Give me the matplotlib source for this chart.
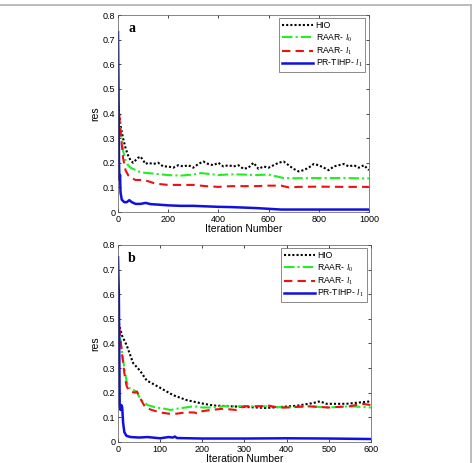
import matplotlib
matplotlib.use('Agg')
import matplotlib.pyplot as plt
from matplotlib.lines import Line2D

plt.rcParams['font.family'] = ['Liberation Sans', 'DejaVu Sans']
plt.rcParams['mathtext.fontset'] = 'custom'
plt.rcParams['mathtext.it'] = 'Liberation Serif:italic'
plt.rcParams['mathtext.rm'] = 'Liberation Serif'

# ---- panel a (1000 iterations) ----
a_hio_x = [0, 5, 10, 20, 30, 40, 50, 60, 70, 80, 90, 100, 110, 120, 140, 160, 180, 200, 220, 240,
           260, 280, 300, 320, 340, 360, 380, 400, 420, 440, 460, 480, 500, 520, 540, 560, 580, 600,
           620, 640, 660, 680, 700, 720, 740, 760, 780, 800, 820, 840, 860, 880, 900, 920, 940, 960,
           980, 1000]
a_hio_y = [0.45, 0.40, 0.35, 0.30, 0.26, 0.23, 0.21, 0.20, 0.21, 0.22, 0.225, 0.21, 0.195, 0.20,
           0.195, 0.20, 0.185, 0.185, 0.18, 0.19, 0.185, 0.19, 0.18, 0.195, 0.205, 0.195, 0.19,
           0.20, 0.185, 0.19, 0.185, 0.19, 0.175, 0.18, 0.20, 0.175, 0.185, 0.18, 0.19, 0.20, 0.205,
           0.19, 0.175, 0.165, 0.17, 0.18, 0.195, 0.19, 0.18, 0.17, 0.185, 0.19, 0.195, 0.185, 0.19,
           0.18, 0.19, 0.17]
a_l0_x = [0, 10, 20, 30, 40, 50, 80, 100, 150, 200, 250, 300, 330, 360, 400, 450, 500, 550, 600,
          630, 660, 700, 800, 900, 1000]
a_l0_y = [0.42, 0.33, 0.25, 0.21, 0.19, 0.18, 0.165, 0.16, 0.155, 0.15, 0.148, 0.152, 0.158, 0.155,
          0.15, 0.153, 0.152, 0.15, 0.152, 0.145, 0.138, 0.137, 0.138, 0.138, 0.136]
a_l1_x = [0, 10, 20, 30, 40, 50, 70, 100, 120, 150, 200, 250, 300, 350, 400, 450, 500, 550, 600,
          650, 680, 720, 800, 900, 1000]
a_l1_y = [0.45, 0.33, 0.22, 0.17, 0.15, 0.14, 0.13, 0.13, 0.125, 0.115, 0.11, 0.11, 0.11, 0.105,
          0.102, 0.105, 0.105, 0.105, 0.107, 0.107, 0.10, 0.102, 0.103, 0.102, 0.102]
a_tihp_x = [0, 2, 4, 6, 8, 10, 15, 25, 35, 45, 55, 70, 90, 110, 130, 160, 200, 250, 300, 350, 400,
            450, 500, 550, 600, 650, 700, 1000]
a_tihp_y = [0.73, 0.5, 0.2, 0.13, 0.15, 0.08, 0.05, 0.04, 0.04, 0.048, 0.04, 0.033, 0.033, 0.037,
            0.032, 0.03, 0.027, 0.025, 0.025, 0.023, 0.021, 0.02, 0.018, 0.016, 0.013, 0.01, 0.01,
            0.01]

# ---- panel b (600 iterations) ----
b_hio_x = [0, 5, 10, 20, 36, 52, 68, 100, 131, 163, 195, 226, 265, 305, 352, 384, 424, 463, 479,
           495, 542, 600]
b_hio_y = [0.50, 0.46, 0.43, 0.395, 0.32, 0.29, 0.25, 0.22, 0.19, 0.17, 0.158, 0.148, 0.145, 0.142,
           0.138, 0.142, 0.147, 0.158, 0.165, 0.155, 0.155, 0.165]
b_l0_x = [0, 5, 10, 15, 20, 25, 35, 45, 55, 70, 90, 110, 125, 140, 160, 180, 200, 220, 250, 300,
          350, 400, 450, 500, 550, 600]
b_l0_y = [0.50, 0.42, 0.36, 0.30, 0.25, 0.22, 0.215, 0.20, 0.17, 0.15, 0.14, 0.135, 0.13, 0.135,
          0.14, 0.145, 0.14, 0.14, 0.145, 0.145, 0.145, 0.14, 0.145, 0.14, 0.145, 0.14]
b_l1_x = [0, 5, 10, 15, 20, 25, 30, 40, 45, 55, 65, 80, 100, 120, 140, 160, 180, 190, 200, 220,
          250, 280, 300, 340, 350, 380, 400, 450, 500, 550, 580, 600]
b_l1_y = [0.52, 0.43, 0.35, 0.28, 0.23, 0.21, 0.205, 0.20, 0.205, 0.17, 0.14, 0.13, 0.12, 0.115,
          0.115, 0.12, 0.12, 0.115, 0.125, 0.13, 0.135, 0.13, 0.145, 0.145, 0.15, 0.14, 0.14, 0.145,
          0.14, 0.145, 0.155, 0.15]
b_tihp_x = [0, 2, 4, 6, 8, 10, 12, 15, 20, 30, 50, 70, 100, 120, 130, 135, 140, 170, 200, 300, 400,
            500, 600]
b_tihp_y = [0.75, 0.6, 0.15, 0.13, 0.15, 0.14, 0.08, 0.04, 0.025, 0.02, 0.018, 0.02, 0.015, 0.02,
            0.018, 0.022, 0.016, 0.015, 0.014, 0.014, 0.015, 0.014, 0.012]

labels = ['HIO', 'RAAR- $l_0$', 'RAAR- $l_1$', 'PR-TIHP- $l_1$']

fig = plt.figure(figsize=(4.77, 4.63), dpi=100)

# journal frame
fig.add_artist(Line2D([0, 0.988], [0.989, 0.989], color='#b0b0b0', lw=1.2, transform=fig.transFigure))
fig.add_artist(Line2D([0.988, 0.988], [0.0, 0.989], color='#b0b0b0', lw=1.2, transform=fig.transFigure))


def draw(ax, data, xmax, xstep, tag):
    (hx, hy), (l0x, l0y), (l1x, l1y), (tx, ty) = data
    ax.plot(hx, hy, color='black', ls=(0, (1, 1)), lw=1.5, label=labels[0])
    ax.plot(l0x, l0y, color='#22ee22', ls=(0, (5, 1.5, 1, 1.5)), lw=1.5, label=labels[1])
    ax.plot(l1x, l1y, color='#ee1111', ls=(0, (4, 2.5)), lw=1.5, label=labels[2])
    ax.plot(tx, ty, color='#1010e0', lw=1.8, label=labels[3])
    ax.set_xlim(0, xmax)
    ax.set_ylim(0, 0.8)
    ax.set_xticks(range(0, xmax + 1, xstep))
    ax.set_yticks([0, 0.1, 0.2, 0.3, 0.4, 0.5, 0.6, 0.7, 0.8])
    ax.set_yticklabels(['0', '0.1', '0.2', '0.3', '0.4', '0.5', '0.6', '0.7', '0.8'])
    ax.tick_params(direction='in', top=True, right=True, labelsize=6.5, length=2.5, width=0.5, pad=2)
    for s in ax.spines.values():
        s.set_linewidth(0.5)
        s.set_color('#555555')
    ax.set_xlabel('Iteration Number', fontsize=7.5, labelpad=0)
    ax.set_ylabel('res', fontsize=7.5, labelpad=2)
    ax.text(0.04, 0.93, tag, transform=ax.transAxes, fontsize=10, fontweight='bold',
            family='Liberation Serif', va='center')
    leg = ax.legend(loc='upper right', fontsize=6.2, frameon=True, fancybox=False,
                    handlelength=3.6, handletextpad=0.3, borderpad=0.35, labelspacing=0.12,
                    borderaxespad=0.4)
    leg.get_frame().set_edgecolor('#333333')
    leg.get_frame().set_linewidth(0.5)


ax1 = fig.add_axes([0.2474, 0.5421, 0.526, 0.4255])
draw(ax1, [(a_hio_x, a_hio_y), (a_l0_x, a_l0_y), (a_l1_x, a_l1_y), (a_tihp_x, a_tihp_y)], 1000, 200, 'a')

ax2 = fig.add_axes([0.2474, 0.0454, 0.530, 0.4255])
draw(ax2, [(b_hio_x, b_hio_y), (b_l0_x, b_l0_y), (b_l1_x, b_l1_y), (b_tihp_x, b_tihp_y)], 600, 100, 'b')

fig.savefig('out.png', dpi=100)
